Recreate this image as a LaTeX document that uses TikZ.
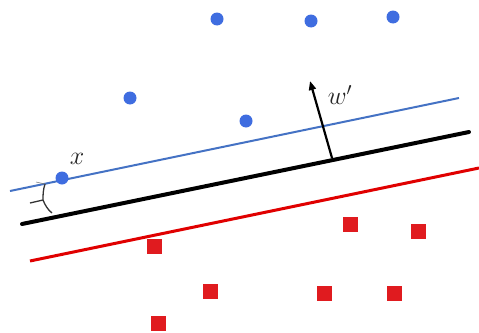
\documentclass[tikz,border=0pt]{standalone}
\usetikzlibrary{arrows.meta}
\definecolor{lineblue}{HTML}{4472C4}
\definecolor{dotblue}{HTML}{3F6DE0}
\definecolor{sqred}{HTML}{E01B1F}
\definecolor{linered}{HTML}{E00000}
\begin{document}
\begin{tikzpicture}[x=1pt,y=-1pt,
  bdot/.style={circle,fill=dotblue,inner sep=0pt,minimum size=13pt},
  rsq/.style={rectangle,fill=sqred,inner sep=0pt,minimum size=15pt},
  lbl/.style={font=\huge,inner sep=0pt,text=black!85,scale=1.25}]
\useasboundingbox (0,0) rectangle (479,332);
% lines
\coordinate (b1) at (10,191); \coordinate (b2) at (459,98);
\coordinate (k1) at (22,224); \coordinate (k2) at (469,132);
\coordinate (r1) at (30,261); \coordinate (r2) at (479,168);
\draw[lineblue,line width=2pt] (b1) -- (b2);
\draw[black,line width=4pt,line cap=round] (k1) -- (k2);
\draw[linered,line width=3pt] (r1) -- (r2);
% normal vector
\coordinate (wbase) at (332,158);
\coordinate (wtip) at (310,81);
\draw[line width=2.2pt,-{Triangle[length=9pt,width=7pt]}] (wbase) -- (wtip);
\node[lbl] (wl) at (340,95) {$w'$};
% brace
\coordinate (bt) at (45,184);
\coordinate (bm) at (43,200);
\coordinate (bp) at (30,203);
\coordinate (bb) at (52,213);
\draw[black!80,line width=1.3pt] (bt) .. controls (43,190) and (43,195) .. (bm) -- (bp);
\draw[black!80,line width=1.3pt] (bm) .. controls (45,205) and (48,210) .. (bb);
\draw[black!50,line width=0.6pt] (bt) -- (36,182);
% blue points
\node[bdot] (p1) at (217,19) {};
\node[bdot] (p2) at (311,21) {};
\node[bdot] (p3) at (393,17) {};
\node[bdot] (p4) at (130,98) {};
\node[bdot] (p5) at (246,121) {};
\node[bdot] (p6) at (62,178) {};
\node[lbl] (xl) at (77,159) {$x$};
% red squares
\node[rsq] (q1) at (154,246) {};
\node[rsq] (q2) at (350,224) {};
\node[rsq] (q3) at (418,231) {};
\node[rsq] (q4) at (210,291) {};
\node[rsq] (q5) at (324,293) {};
\node[rsq] (q6) at (394,293) {};
\node[rsq] (q7) at (158,323) {};
\end{tikzpicture}
\end{document}
